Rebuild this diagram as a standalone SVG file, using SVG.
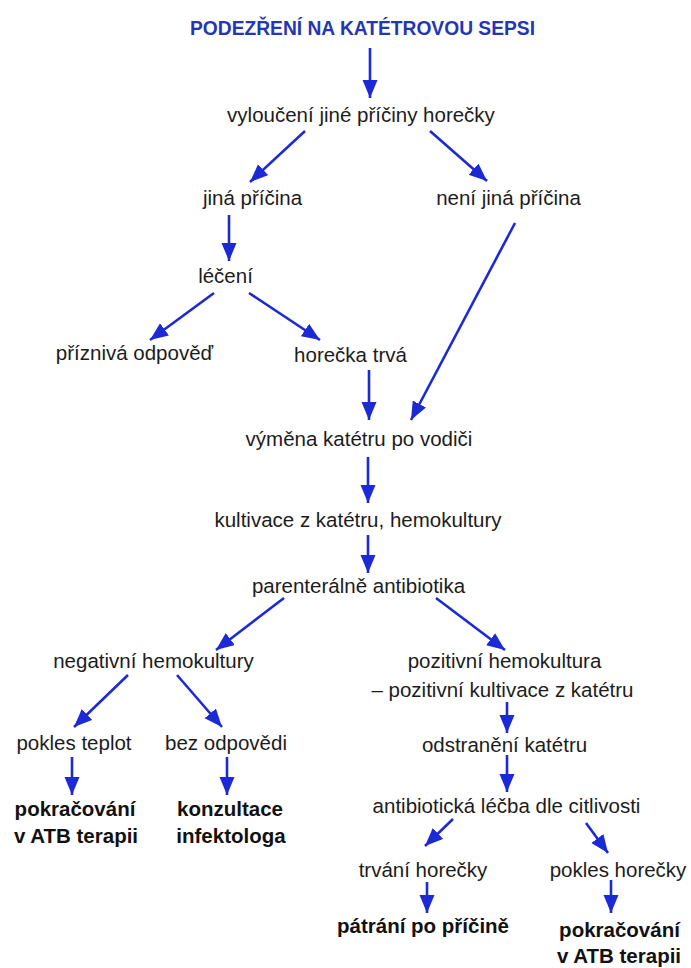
<svg xmlns="http://www.w3.org/2000/svg" width="691" height="968" viewBox="0 0 691 968">
<style>
.t{font-family:"Liberation Sans",Arial,sans-serif;font-size:20.5px;fill:#1c1c1c;text-anchor:middle}
.b{font-family:"Liberation Sans",Arial,sans-serif;font-size:20.5px;font-weight:bold;fill:#111;text-anchor:middle}
.h{font-family:"Liberation Sans",Arial,sans-serif;font-size:20px;font-weight:bold;fill:#2536b4;text-anchor:middle}
.c line{stroke:#1c2ad6;stroke-width:2.6;marker-end:url(#ah)}
</style>
<defs>
<marker id="ah" markerUnits="userSpaceOnUse" markerWidth="19" markerHeight="16" refX="18" refY="7.5" orient="auto">
<path d="M0,0 L18,7.5 L0,15 z" fill="#1c2ad6"/>
</marker>
</defs>
<rect width="691" height="968" fill="#fff"/>
<g id="n-title"><text class="h" x="362.5" y="35" textLength="345" lengthAdjust="spacingAndGlyphs">PODEZŘENÍ NA KATÉTROVOU SEPSI</text></g>
<g id="n-vylouceni"><text class="t" x="361" y="122">vyloučení jiné příčiny horečky</text></g>
<g id="n-jina"><text class="t" x="252.5" y="205">jiná příčina</text></g>
<g id="n-neni"><text class="t" x="508.5" y="205">není jiná příčina</text></g>
<g id="n-leceni"><text class="t" x="225.5" y="283">léčení</text></g>
<g id="n-priznivá"><text class="t" x="134.5" y="360">příznivá odpověď</text></g>
<g id="n-horecka"><text class="t" x="350.5" y="362">horečka trvá</text></g>
<g id="n-vymena"><text class="t" x="359" y="446">výměna katétru po vodiči</text></g>
<g id="n-kultivace"><text class="t" x="358" y="527">kultivace z katétru, hemokultury</text></g>
<g id="n-parenteralne"><text class="t" x="358.5" y="593">parenterálně antibiotika</text></g>
<g id="n-negativni"><text class="t" x="153.5" y="668">negativní hemokultury</text></g>
<g id="n-pozitivni"><text class="t" x="504.5" y="668">pozitivní hemokultura</text><text class="t" x="502.5" y="697">– pozitivní kultivace z katétru</text></g>
<g id="n-pokles-teplot"><text class="t" x="74" y="750">pokles teplot</text></g>
<g id="n-bez"><text class="t" x="226" y="750">bez odpovědi</text></g>
<g id="n-odstraneni"><text class="t" x="504.5" y="752">odstranění katétru</text></g>
<g id="n-pokracovani1"><text class="b" x="75" y="816">pokračování</text><text class="b" x="76" y="843">v ATB terapii</text></g>
<g id="n-konzultace"><text class="b" x="230" y="816">konzultace</text><text class="b" x="231" y="843">infektologa</text></g>
<g id="n-antibioticka"><text class="t" x="506.5" y="813">antibiotická léčba dle citlivosti</text></g>
<g id="n-trvani"><text class="t" x="423" y="877">trvání horečky</text></g>
<g id="n-pokles-horecky"><text class="t" x="618" y="877">pokles horečky</text></g>
<g id="n-patrani"><text class="b" x="423" y="933">pátrání po příčině</text></g>
<g id="n-pokracovani2"><text class="b" x="619.5" y="937">pokračování</text><text class="b" x="619" y="963">v ATB terapii</text></g>
<g id="connectors" class="c">
<line x1="370" y1="48" x2="370" y2="98"/>
<line x1="305" y1="131" x2="250" y2="182"/>
<line x1="430" y1="131" x2="487" y2="181"/>
<line x1="229" y1="215" x2="229" y2="261"/>
<line x1="214" y1="293" x2="150" y2="340"/>
<line x1="249" y1="293" x2="320" y2="340"/>
<line x1="369" y1="370" x2="369" y2="420"/>
<line x1="515" y1="223" x2="411" y2="420"/>
<line x1="368" y1="457" x2="368" y2="503"/>
<line x1="368" y1="535" x2="368" y2="573"/>
<line x1="284" y1="598" x2="216" y2="650"/>
<line x1="436" y1="598" x2="505" y2="650"/>
<line x1="507" y1="702" x2="507" y2="733"/>
<line x1="128" y1="675" x2="74" y2="727"/>
<line x1="177" y1="675" x2="222" y2="727"/>
<line x1="72" y1="757" x2="72" y2="795"/>
<line x1="227" y1="757" x2="227" y2="795"/>
<line x1="507" y1="755" x2="507" y2="792"/>
<line x1="453" y1="819" x2="425" y2="846"/>
<line x1="586" y1="823" x2="608" y2="853"/>
<line x1="427" y1="882" x2="427" y2="913"/>
<line x1="611" y1="880" x2="611" y2="913"/>
</g>
</svg>
